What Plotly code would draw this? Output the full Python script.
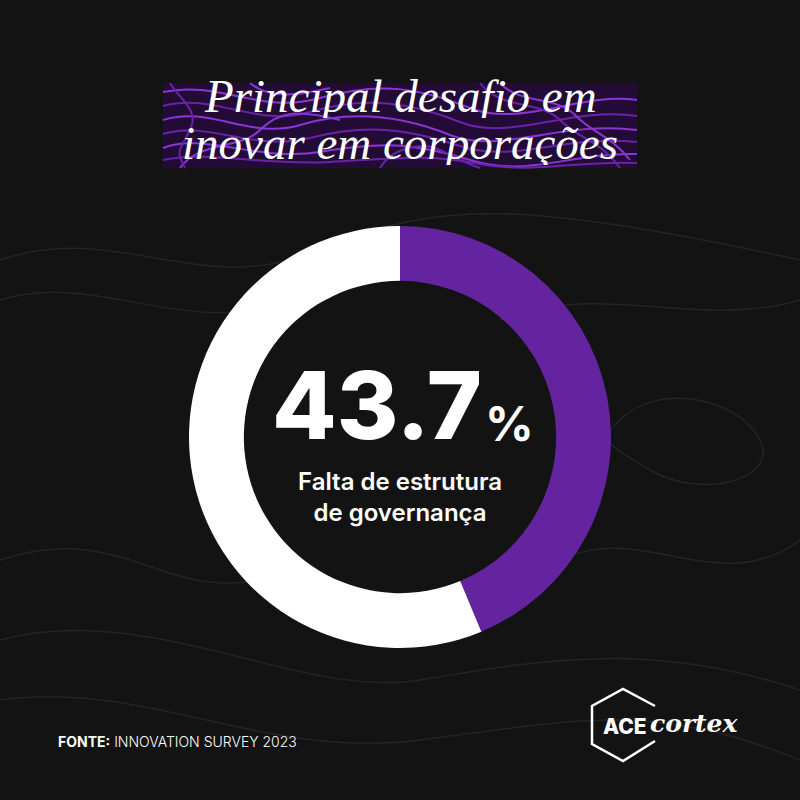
import plotly.graph_objects as go

# ---- data ----
slice_labels = ["Falta de estrutura de governança", "Outros"]
slice_values = [43.7, 56.3]
slice_colors = ["#6424a0", "#ffffff"]
big_value = "43.7"
title_lines = ["Principal desafio em", "inovar em corporações"]
center_label = "Falta de estrutura<br>de governança"
source_bold = "FONTE:"
source_text = "INNOVATION SURVEY 2023"

W = 800
BG = "#131313"

fig = go.Figure()

# invisible pixel-coordinate axes for decorations
fig.add_trace(go.Scatter(x=[None], y=[None], mode="markers", showlegend=False, hoverinfo="skip"))

# donut: center (400,437), outer radius ~211
cx, cy, r = 400, 437, 211
fig.add_trace(go.Pie(
    labels=slice_labels, values=slice_values,
    marker=dict(colors=slice_colors, line=dict(width=0)),
    hole=0.74, sort=False, direction="clockwise", rotation=0,
    textinfo="none", hoverinfo="skip", showlegend=False,
    domain=dict(x=[(cx - r) / W, (cx + r) / W], y=[(W - cy - r) / W, (W - cy + r) / W]),
))

shapes = []
# title band
shapes.append(dict(type="rect", xref="x", yref="y", x0=163, x1=637, y0=83, y1=168,
                   fillcolor="#220c36", line=dict(width=0), layer="below"))
# swirl lines inside title band
swirls = [
    "M 163 92 C 220 80, 260 115, 320 98 S 420 88, 470 108 S 580 92, 637 100",
    "M 163 106 C 215 92, 255 128, 310 112 S 410 102, 460 122 S 570 106, 637 116",
    "M 163 120 C 210 105, 250 140, 300 125 S 400 115, 450 135 S 560 120, 637 130",
    "M 163 134 C 205 120, 255 152, 310 138 S 405 128, 460 146 S 565 134, 637 142",
    "M 163 148 C 200 132, 260 162, 320 152 S 410 142, 470 160 S 570 152, 637 154",
    "M 163 160 C 210 150, 260 166, 330 162 S 430 154, 480 164 S 580 160, 637 163",
    "M 180 168 C 200 140, 240 150, 260 130 S 300 110, 340 120",
    "M 480 83 C 500 110, 540 100, 560 120 S 600 140, 620 168",
    "M 500 83 C 520 105, 555 95, 575 115 S 610 135, 630 160",
    "M 380 168 C 390 150, 420 140, 440 150 S 470 165, 480 168",
    "M 250 83 C 270 100, 300 95, 330 88",
    "M 170 83 C 180 100, 200 110, 190 130 S 175 150, 185 168",
]
for i, p in enumerate(swirls):
    shapes.append(dict(type="path", xref="x", yref="y", path=p,
                       line=dict(color="#8a35d6" if i % 2 == 0 else "#6a22a8", width=2), layer="below"))

# faint topographic lines in background
topo = [
    "M 0 260 C 120 220, 200 300, 320 250 S 520 200, 800 260",
    "M 0 300 C 100 270, 180 340, 300 300",
    "M 500 320 C 600 280, 700 330, 800 300",
    "M 0 560 C 120 520, 160 600, 260 580",
    "M 560 560 C 640 520, 720 600, 800 540",
    "M 0 640 C 150 600, 300 700, 420 680 S 650 640, 800 690",
    "M 0 700 C 150 680, 260 760, 420 740 S 650 700, 800 760",
    "M 620 420 C 660 380, 740 400, 760 440 S 700 500, 650 470 S 600 440, 620 420",
]
for p in topo:
    shapes.append(dict(type="path", xref="x", yref="y", path=p,
                       line=dict(color="#242424", width=1.5), layer="below"))

# logo hexagon (open on right side)
shapes.append(dict(type="path", xref="x", yref="y",
                   path="M 655 741 L 623 761 L 592 744 L 592 706 L 623 689 L 655 706",
                   line=dict(color="#ffffff", width=2.5), layer="above"))

ann = []
# title
ann.append(dict(x=400, y=96, xref="x", yref="y", text=f"<i>{title_lines[0]}</i>", showarrow=False, height=44,
                font=dict(family="Liberation Serif", size=47, color="#ffffff"), xanchor="center", yanchor="middle"))
ann.append(dict(x=400, y=143, xref="x", yref="y", text=f"<i>{title_lines[1]}</i>", showarrow=False, height=44,
                font=dict(family="Liberation Serif", size=47, color="#ffffff"), xanchor="center", yanchor="middle"))
# big number
ann.append(dict(x=484, y=405, xref="x", yref="y", text=big_value, showarrow=False,
                font=dict(family="Inter", size=94, color="#ffffff", weight=800), xanchor="right", yanchor="middle"))
ann.append(dict(x=483, y=423, xref="x", yref="y", text="%", showarrow=False,
                font=dict(family="Inter", size=48, color="#ffffff", weight=700), xanchor="left", yanchor="middle"))
# center label
ann.append(dict(x=400, y=497, xref="x", yref="y", text=center_label, showarrow=False,
                font=dict(family="Inter", size=24, color="#ffffff", weight=600), xanchor="center", yanchor="middle"))
# source
ann.append(dict(x=56, y=741, xref="x", yref="y",
                text=f"<b>{source_bold}</b> <span style='font-weight:300'>{source_text}</span>", showarrow=False,
                font=dict(family="Inter", size=14, color="#ffffff"), xanchor="left", yanchor="middle"))
# logo text
ann.append(dict(x=601, y=726, xref="x", yref="y", text="ACE", showarrow=False,
                font=dict(family="Inter", size=21, color="#ffffff", weight=800), xanchor="left", yanchor="middle"))
ann.append(dict(x=648, y=723, xref="x", yref="y", text="<b><i>cortex</i></b>", showarrow=False,
                font=dict(family="DejaVu Serif", size=25, color="#ffffff"), xanchor="left", yanchor="middle"))

fig.update_layout(
    width=800, height=800, margin=dict(l=0, r=0, t=0, b=0),
    paper_bgcolor=BG, plot_bgcolor=BG,
    xaxis=dict(range=[0, 800], visible=False, domain=[0, 1], fixedrange=True),
    yaxis=dict(range=[800, 0], visible=False, domain=[0, 1], fixedrange=True),
    shapes=shapes, annotations=ann, showlegend=False,
)

fig.write_html("out.html")
